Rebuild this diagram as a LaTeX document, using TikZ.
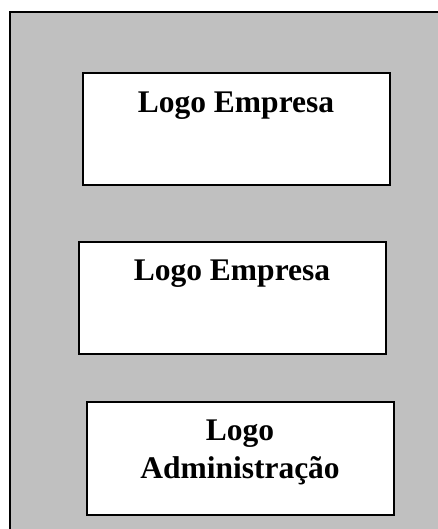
\documentclass[tikz,border=0pt]{standalone}
\usepackage{fontspec}
\setmainfont{Liberation Serif}
\usetikzlibrary{positioning}
\definecolor{panelgray}{RGB}{192,192,192}
\begin{document}
\begin{tikzpicture}[x=1pt, y=1pt,
    logobox/.style={draw, line width=2pt, fill=white, rectangle, minimum width=307pt, minimum height=112pt, inner sep=0pt},
    logotext/.style={inner sep=0pt, align=center, font=\fontsize{31.5}{38}\selectfont\bfseries}]
                \clip (0,0) rectangle (438,529);
                \draw [line width=2pt, fill=panelgray] (10.3,516.5) rectangle (470,-30);
                \node [logobox] (emp1) at (236,400) {};
                \node [logobox] (emp2) at (232,231) {};
                \node [logobox, minimum height=113pt] (adm) at (240,70.5) {};
                \node [logotext, below=20pt] (emp1 label) at (emp1.north) {Logo Empresa};
                \node [logotext, below=19pt] (emp2 label) at (emp2.north) {Logo Empresa};
                \node [logotext, below=19pt] (adm label) at (adm.north) {Logo\\Administração};
            \end{tikzpicture}
\end{document}
